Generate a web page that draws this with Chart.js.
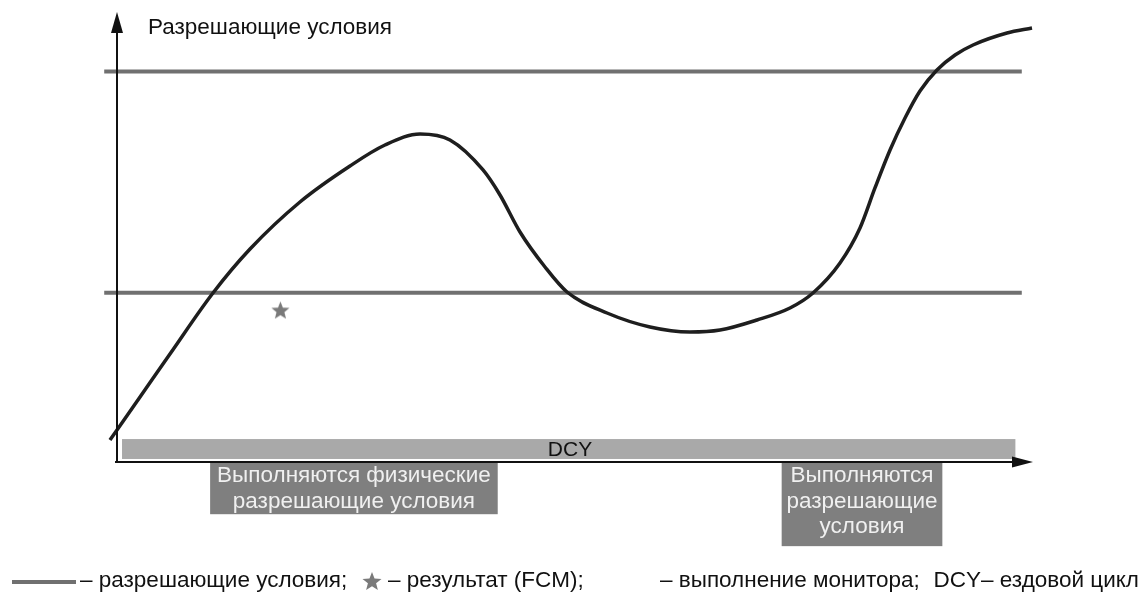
<!DOCTYPE html>
<html><head><meta charset="utf-8">
<script src="https://cdn.jsdelivr.net/npm/chart.js@4.4.1/dist/chart.umd.min.js"></script>
<style>html,body{margin:0;padding:0;background:#fff;overflow:hidden}canvas{display:block}</style>
</head><body>
<canvas id="c" width="1141" height="592"></canvas>
<script>
// ---- data (axis units: x 0..100 along time, y 0..100 up the vertical axis) ----
const curveX = [-0.77, 2.52, 5.80, 10.51, 14.57, 20.04, 25.52, 29.35, 33.19, 36.47, 40.09, 41.95, 44.14, 46.88, 49.29, 53.67, 58.38, 62.76, 66.05, 70.10, 73.71, 76.23, 79.19, 81.38, 83.02, 84.67, 86.31, 87.95, 89.81, 91.79, 93.76, 97.48, 100.22];
const curveY = [4.89, 14.44, 24.0, 37.56, 47.33, 57.78, 65.78, 70.44, 72.89, 71.56, 64.89, 59.33, 51.11, 43.33, 37.78, 33.11, 30.0, 28.89, 29.33, 31.56, 34.22, 37.56, 44.22, 52.0, 60.89, 69.33, 76.44, 82.44, 87.11, 90.44, 92.67, 95.33, 96.44];
const thresholdLevels = [86.8, 37.6];
const thresholdSpan = [-1.4, 99.1];
const fcmX = [17.9];
const fcmY = [33.8];
const dcySpan = [0.55, 98.4];
const dcyBand = [0.67, 5.1];
const regionX = [[10.2, 41.7], [72.8, 90.4]];
const regionY = [[-0.2, -11.6], [-0.2, -18.7]];
const regionLabels = [["Выполняются физические", "разрешающие условия"], ["Выполняются", "разрешающие", "условия"]];
const axisTitle = "Разрешающие условия";
const dcyLabel = "DCY";
const legendTexts = ["– разрешающие условия;", "– результат (FCM);", "– выполнение монитора;", "DCY– ездовой цикл"];

const FONT = '"Liberation Sans", Arial, sans-serif';
const GRAY_LINE = '#707070';
const STAR_GRAY = '#7a7a7a';

function starPath(ctx, cx, cy, R, r) {
  ctx.beginPath();
  for (let i = 0; i < 10; i++) {
    const a = -Math.PI / 2 + i * Math.PI / 5;
    const rad = i % 2 === 0 ? R : r;
    const px = cx + rad * Math.cos(a), py = cy + rad * Math.sin(a);
    if (i === 0) ctx.moveTo(px, py); else ctx.lineTo(px, py);
  }
  ctx.closePath();
}
function makeStar(size, color) {
  const cv = document.createElement('canvas');
  cv.width = size; cv.height = size;
  const g = cv.getContext('2d');
  g.fillStyle = color;
  starPath(g, size / 2, size / 2 + 1, size / 2, size / 4.6);
  g.fill();
  return cv;
}
const starImg = makeStar(19, STAR_GRAY);

const decor = {
  id: 'decor',
  beforeDatasetsDraw(chart) {
    const ctx = chart.ctx, xs = chart.scales.x, ys = chart.scales.y;
    ctx.save();
    // DCY band
    const bx0 = xs.getPixelForValue(dcySpan[0]), bx1 = xs.getPixelForValue(dcySpan[1]);
    const by0 = ys.getPixelForValue(dcyBand[1]), by1 = ys.getPixelForValue(dcyBand[0]);
    ctx.fillStyle = '#a9a9a9';
    ctx.fillRect(bx0, by0, bx1 - bx0, by1 - by0);
    ctx.fillStyle = '#111';
    ctx.font = '21px ' + FONT;
    ctx.textAlign = 'center'; ctx.textBaseline = 'middle';
    ctx.fillText(dcyLabel, 570, (by0 + by1) / 2 + 1);
    // region boxes
    regionX.forEach((rx, i) => {
      const x0 = xs.getPixelForValue(rx[0]), x1 = xs.getPixelForValue(rx[1]);
      const y0 = ys.getPixelForValue(regionY[i][0]), y1 = ys.getPixelForValue(regionY[i][1]);
      ctx.fillStyle = '#7f7f7f';
      ctx.fillRect(x0, y0, x1 - x0, y1 - y0);
      ctx.fillStyle = '#f0f0f0';
      ctx.font = '22.5px ' + FONT;
      regionLabels[i].forEach((t, k) => {
        ctx.fillText(t, (x0 + x1) / 2, y0 + 13 + k * 25.5);
      });
    });
    ctx.restore();
  },
  afterDatasetsDraw(chart) {
    const ctx = chart.ctx, xs = chart.scales.x, ys = chart.scales.y;
    const ox = xs.getPixelForValue(0), oy = ys.getPixelForValue(0);
    const tipY = ys.getPixelForValue(100), tipX = xs.getPixelForValue(100) + 3;
    ctx.save();
    ctx.strokeStyle = '#111'; ctx.fillStyle = '#111'; ctx.lineWidth = 2;
    ctx.beginPath(); ctx.moveTo(ox, oy); ctx.lineTo(ox, tipY + 18); ctx.stroke();
    ctx.beginPath(); ctx.moveTo(ox, tipY); ctx.lineTo(ox - 6, tipY + 21); ctx.lineTo(ox + 6, tipY + 21); ctx.closePath(); ctx.fill();
    ctx.beginPath(); ctx.moveTo(ox - 2, oy); ctx.lineTo(tipX - 18, oy); ctx.stroke();
    ctx.beginPath(); ctx.moveTo(tipX, oy); ctx.lineTo(tipX - 21, oy - 5.5); ctx.lineTo(tipX - 21, oy + 5.5); ctx.closePath(); ctx.fill();
    // axis title
    ctx.font = '22.5px ' + FONT;
    ctx.textAlign = 'left'; ctx.textBaseline = 'middle';
    ctx.fillText(axisTitle, 148, 28);
    // legend
    const ly = 581;
    ctx.strokeStyle = GRAY_LINE; ctx.lineWidth = 4;
    ctx.beginPath(); ctx.moveTo(12, ly + 1); ctx.lineTo(76, ly + 1); ctx.stroke();
    ctx.fillStyle = '#111';
    ctx.font = '22.5px ' + FONT;
    ctx.fillText(legendTexts[0], 80, ly);
    ctx.fillStyle = STAR_GRAY;
    starPath(ctx, 372, ly + 1, 10, 4.3); ctx.fill();
    ctx.fillStyle = '#111';
    ctx.fillText(legendTexts[1], 388, ly);
    ctx.fillText(legendTexts[2], 660, ly);
    ctx.textAlign = 'right';
    ctx.fillText(legendTexts[3], 1139, ly);
    ctx.restore();
  }
};

new Chart(document.getElementById('c'), {
  type: 'scatter',
  data: {
    datasets: [
      {
        label: 'curve', order: 0,
        data: curveX.map((x, i) => ({ x, y: curveY[i] })),
        showLine: true, borderColor: '#1e1e1e', borderWidth: 3.5,
        pointRadius: 0, cubicInterpolationMode: 'monotone', clip: false
      },
      {
        label: 'fcm', order: -1,
        data: fcmX.map((x, i) => ({ x, y: fcmY[i] })),
        pointStyle: starImg, pointRadius: 10, showLine: false
      },
      ...thresholdLevels.map((lvl, i) => ({
        label: 'thr' + i, order: 2,
        data: thresholdSpan.map(x => ({ x, y: lvl })),
        showLine: true, borderColor: GRAY_LINE, borderWidth: 4,
        pointRadius: 0, clip: false
      }))
    ]
  },
  options: {
    responsive: false, animation: false,
    layout: { padding: { left: 117, right: 111, top: 12, bottom: 130 } },
    plugins: { legend: { display: false }, tooltip: { enabled: false } },
    scales: {
      x: { type: 'linear', min: 0, max: 100, display: false },
      y: { type: 'linear', min: 0, max: 100, display: false }
    }
  },
  plugins: [decor]
});
</script>
</body></html>
